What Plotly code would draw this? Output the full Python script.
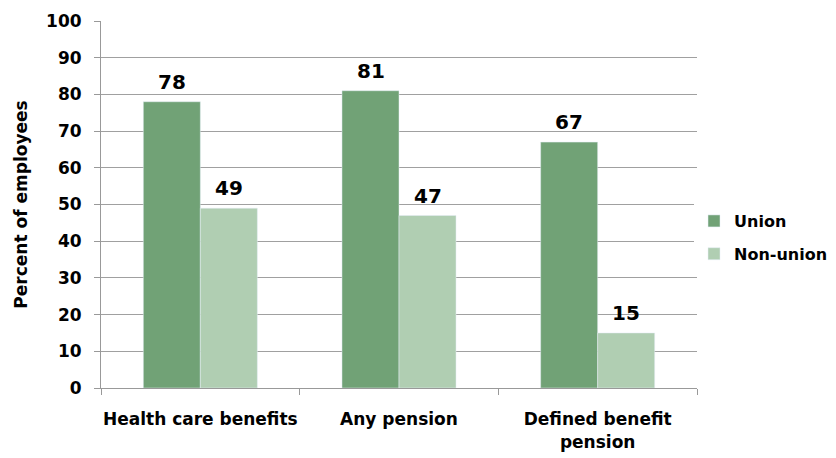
import plotly.graph_objects as go

categories = ["Health care benefits", "Any pension", "Defined benefit<br>pension"]
union = [78, 81, 67]
non_union = [49, 47, 15]
series_names = ["Union", "Non-union"]
y_ticks = [0, 10, 20, 30, 40, 50, 60, 70, 80, 90, 100]

FONT = "DejaVu Sans"
COLORS = ["#71A276", "#B0CEB2"]
fig = go.Figure()
for name, vals, col in zip(series_names, [union, non_union], COLORS):
    fig.add_trace(go.Bar(x=categories, y=vals, name=name, marker_color=col,
                         legendgroup=name))

# value labels above bars (placed at data coordinates, offset to each bar of the group)
BAR_PX = 28.5
for offset, vals in zip([-BAR_PX, BAR_PX], [union, non_union]):
    for c, v in zip(categories, vals):
        fig.add_annotation(x=c, y=v, text=str(v), showarrow=False, xshift=offset,
                           yanchor="bottom", yshift=6,
                           font=dict(size=20, color="black", family=FONT, weight="bold"))

fig.update_layout(
    width=828, height=450,
    margin=dict(l=93, r=139, t=13, b=70, autoexpand=False),
    paper_bgcolor="white", plot_bgcolor="white",
    barmode="group", bargap=0.426, bargroupgap=0,
    font=dict(family=FONT, size=16, color="black", weight="bold"),
    legend=dict(x=0.995, y=0.41, xanchor="left", yanchor="middle",
                traceorder="grouped", tracegroupgap=9,
                font=dict(size=16, family=FONT, weight="bold"),
                itemwidth=30),
    xaxis=dict(showline=True, linecolor="#999999", linewidth=1, tickangle=0,
               ticks="outside", tickson="boundaries", ticklen=6, tickcolor="#999999",
               ticklabelstandoff=16,
               tickfont=dict(size=17, family=FONT, weight="bold")),
    yaxis=dict(range=[0, 100], tickvals=y_ticks, showgrid=True, gridcolor="#A0A0A0", gridwidth=1,
               showline=True, linecolor="#999999", linewidth=1,
               ticks="outside", ticklen=6, tickcolor="#999999",
               ticklabelstandoff=9,
               tickfont=dict(size=17, family=FONT, weight="bold"),
               title=dict(text="Percent of employees", standoff=14,
                          font=dict(size=17, family=FONT, weight="bold")),
               zeroline=False),
)
fig.write_html("out.html")
